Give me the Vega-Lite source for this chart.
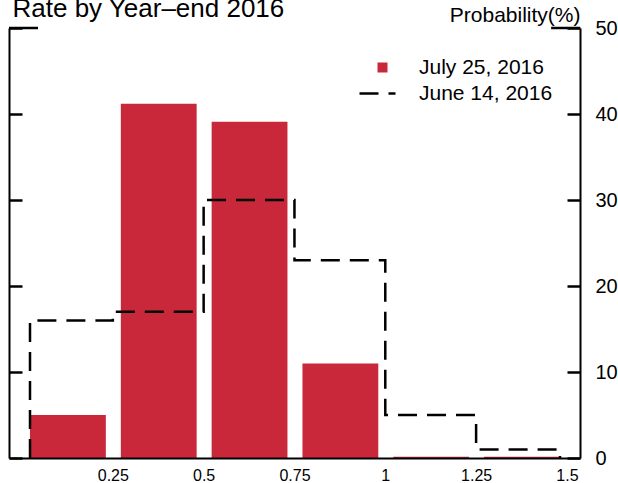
{
  "$schema": "https://vega.github.io/schema/vega-lite/v6.json",
  "width": 571,
  "height": 430,
  "autosize": "none",
  "padding": {"left": 9, "top": 28, "right": 38, "bottom": 25},
  "background": "white",
  "config": {"view": {"stroke": null}, "font": "Liberation Sans"},
  "layer": [
    {
      "data": {"values": [
        {"lo": 0, "hi": 0.25, "prob": 5.0, "series": "July 25, 2016"},
        {"lo": 0.25, "hi": 0.5, "prob": 41.2, "series": "July 25, 2016"},
        {"lo": 0.5, "hi": 0.75, "prob": 39.1, "series": "July 25, 2016"},
        {"lo": 0.75, "hi": 1.0, "prob": 11.0, "series": "July 25, 2016"},
        {"lo": 1.0, "hi": 1.25, "prob": 0.15, "series": "July 25, 2016"},
        {"lo": 1.25, "hi": 1.5, "prob": 0.15, "series": "July 25, 2016"}
      ]},
      "mark": {"type": "bar", "xOffset": 8, "x2Offset": -7},
      "encoding": {
        "x": {"field": "lo", "type": "quantitative",
          "scale": {"domain": [-0.0358, 1.536], "nice": false, "zero": false},
          "axis": {"orient": "bottom", "values": [0.25, 0.5, 0.75, 1, 1.25, 1.5], "format": ".3~g",
            "ticks": false, "grid": false, "title": null, "labelFontSize": 16, "labelColor": "black",
            "labelPadding": 9, "domainColor": "black", "domainWidth": 2, "zindex": 1}},
        "x2": {"field": "hi"},
        "y": {"field": "prob", "type": "quantitative",
          "scale": {"domain": [0, 50], "nice": false},
          "axis": {"orient": "left", "values": [0, 10, 20, 30, 40, 50], "labels": false, "grid": false,
            "domainColor": "black", "domainWidth": 2, "tickColor": "black", "tickWidth": 2.5,
            "tickSize": -13,
            "title": "Rate by Year–end 2016", "titleAngle": 0, "titleX": 3, "titleY": -12,
            "titleAlign": "left", "titleBaseline": "alphabetic", "titleFontSize": 26,
            "titleFontWeight": "normal", "titleColor": "black", "zindex": 1}},
        "y2": {"datum": 0},
        "color": {"field": "series", "type": "nominal",
          "scale": {"domain": ["July 25, 2016"], "range": ["#C8283A"]},
          "legend": {"orient": "none", "legendX": 363, "legendY": 29, "title": null,
            "symbolType": "square", "symbolSize": 100, "symbolStrokeWidth": 0,
            "labelFontSize": 21, "labelColor": "black", "labelOffset": 26, "padding": 0}}
      }
    },
    {
      "data": {"values": [
        {"i": 0, "x": 0.022, "prob": 0, "series": "June 14, 2016"},
        {"i": 1, "x": 0.022, "prob": 16, "series": "June 14, 2016"},
        {"i": 2, "x": 0.25, "prob": 17, "series": "June 14, 2016"},
        {"i": 3, "x": 0.5, "prob": 30, "series": "June 14, 2016"},
        {"i": 4, "x": 0.75, "prob": 23, "series": "June 14, 2016"},
        {"i": 5, "x": 1.0, "prob": 5, "series": "June 14, 2016"},
        {"i": 6, "x": 1.25, "prob": 1, "series": "June 14, 2016"},
        {"i": 7, "x": 1.481, "prob": 0, "series": "June 14, 2016"}
      ]},
      "mark": {"type": "line", "interpolate": "step-after", "color": "black", "strokeWidth": 2.5, "strokeCap": "butt"},
      "encoding": {
        "x": {"field": "x", "type": "quantitative"},
        "y": {"field": "prob", "type": "quantitative",
          "scale": {"domain": [0, 50], "nice": false},
          "axis": {"orient": "right", "values": [0, 10, 20, 30, 40, 50], "grid": false,
            "domainColor": "black", "domainWidth": 2, "tickColor": "black", "tickWidth": 2.5,
            "tickSize": -13,
            "labelFontSize": 20, "labelColor": "black", "labelPadding": 28,
            "title": "Probability(%)", "titleAngle": 0, "titleX": 0, "titleY": -7,
            "titleAlign": "right", "titleBaseline": "alphabetic", "titleFontSize": 21,
            "titleFontWeight": "normal", "titleColor": "black", "zindex": 1}},
        "order": {"field": "i"},
        "strokeDash": {"field": "series", "type": "nominal",
          "scale": {"domain": ["June 14, 2016"], "range": [[19, 10]]},
          "legend": {"orient": "none", "legendX": 349, "legendY": 46, "title": null,
            "symbolType": "stroke", "symbolSize": 1296, "symbolStrokeWidth": 2.5,
            "symbolStrokeColor": "black", "labelFontSize": 21, "labelColor": "black",
            "labelOffset": 22, "padding": 0,
            "encode": {"symbols": {"update": {"strokeDash": {"value": [11, 13]}, "stroke": {"value": "black"}}}}}}
      }
    },
    {
      "data": {"values": [
        {"a": -0.0358, "b": 0.044, "level": 50},
        {"a": 1.4565, "b": 1.536, "level": 50}
      ]},
      "mark": {"type": "rule", "color": "black", "strokeWidth": 2.5},
      "encoding": {
        "x": {"field": "a", "type": "quantitative"},
        "x2": {"field": "b"},
        "y": {"field": "level", "type": "quantitative", "scale": {"domain": [0, 50], "nice": false}, "axis": null}
      }
    }
  ],
  "resolve": {"scale": {"y": "independent"}, "axis": {"y": "independent"}}
}
